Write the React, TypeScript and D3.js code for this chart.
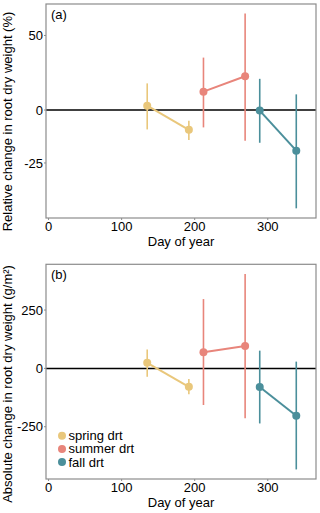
import React from 'react';
import * as d3 from 'd3';

// sampling days (day of year), shared by both panels
const days = [135, 192, 212, 269, 289, 339];
const seasons = ['spring', 'spring', 'summer', 'summer', 'fall', 'fall'];

// (a) relative change (%), mean and error bar limits
const relMean = [2.4, -10.2, 10.5, 20.2, -0.3, -19.8];
const relLow = [-10, -15, -9, -15.4, -16.3, -41.4];
const relHigh = [15.6, -5.6, 33, 69, 18.5, 8.9];

// (b) absolute change (g/m2)
const absMean = [24, -79, 69, 96, -80, -203];
const absLow = [-36, -111, -157, -214, -236, -433];
const absHigh = [81, -46, 297, 404, 76, 29];

const seasonNames = ['spring', 'summer', 'fall'];
const seasonLabels = ['spring drt', 'summer drt', 'fall drt'];
const seasonColors = ['#e9c77b', '#e8857b', '#4b8f9b'];

const relTicks = [50, 0, -25];
const absTicks = [250, 0, -250];
const dayTicks = [0, 100, 200, 300];

const FONT = '"Liberation Sans", Arial, sans-serif';

class App extends React.Component {
	node: SVGSVGElement | null = null;

	componentDidMount() {
		this.draw();
	}
	componentDidUpdate() {
		this.draw();
	}

	draw() {
		const svg = d3.select(this.node);
		svg.selectAll('*').remove();

		const left = 46;
		const right = 316;
		const x = d3.scaleLinear().domain([-3.5, 366]).range([left, right]);
		const color = d3.scaleOrdinal<string, string>().domain(seasonNames).range(seasonColors);

		const panel = (
			top: number,
			bottom: number,
			y: (v: number) => number,
			mean: number[],
			low: number[],
			high: number[],
			ticks: number[],
			tag: string,
			title: string,
			titleMid: number
		) => {
			const g = svg.append('g');
			const pts = days.map((d, i) => ({ day: d, season: seasons[i], m: mean[i], lo: low[i], hi: high[i] }));

			// zero line
			g.append('line')
				.attr('x1', left)
				.attr('x2', right)
				.attr('y1', y(0))
				.attr('y2', y(0))
				.attr('stroke', '#000')
				.attr('stroke-width', 1.5);

			// error bars
			g.selectAll('.err')
				.data(pts)
				.enter()
				.append('line')
				.attr('x1', d => x(d.day))
				.attr('x2', d => x(d.day))
				.attr('y1', d => y(d.lo))
				.attr('y2', d => y(d.hi))
				.attr('stroke', d => color(d.season))
				.attr('stroke-width', 1.6);

			// connecting lines per season
			const line = d3
				.line<any>()
				.x(d => x(d.day))
				.y(d => y(d.m));
			seasonNames.forEach(s => {
				g.append('path')
					.attr('d', line(pts.filter(p => p.season === s)))
					.attr('fill', 'none')
					.attr('stroke', color(s))
					.attr('stroke-width', 2);
			});

			g.selectAll('.pt')
				.data(pts)
				.enter()
				.append('circle')
				.attr('cx', d => x(d.day))
				.attr('cy', d => y(d.m))
				.attr('r', 4)
				.attr('fill', d => color(d.season));

			// frame
			g.append('rect')
				.attr('x', left)
				.attr('y', top)
				.attr('width', right - left)
				.attr('height', bottom - top)
				.attr('fill', 'none')
				.attr('stroke', '#8c8c8c')
				.attr('stroke-width', 1.2);

			// y ticks
			ticks.forEach(t => {
				g.append('line')
					.attr('x1', left - 2)
					.attr('x2', left)
					.attr('y1', y(t))
					.attr('y2', y(t))
					.attr('stroke', '#8c8c8c');
				g.append('text')
					.attr('x', left - 3)
					.attr('y', y(t))
					.attr('dy', '0.35em')
					.attr('text-anchor', 'end')
					.style('font', `13px ${FONT}`)
					.text(t);
			});

			// x ticks
			dayTicks.forEach(t => {
				g.append('line')
					.attr('x1', x(t))
					.attr('x2', x(t))
					.attr('y1', bottom)
					.attr('y2', bottom + 2)
					.attr('stroke', '#8c8c8c');
				g.append('text')
					.attr('x', x(t))
					.attr('y', bottom + 13)
					.attr('text-anchor', 'middle')
					.style('font', `13px ${FONT}`)
					.text(t);
			});

			g.append('text')
				.attr('x', (left + right) / 2)
				.attr('y', bottom + 28)
				.attr('text-anchor', 'middle')
				.style('font', `13px ${FONT}`)
				.text('Day of year');

			g.append('text')
				.attr('transform', `translate(12,${titleMid}) rotate(-90)`)
				.attr('text-anchor', 'middle')
				.style('font', `13px ${FONT}`)
				.text(title);

			g.append('text')
				.attr('x', 51)
				.attr('y', top + 15)
				.style('font', `13px ${FONT}`)
				.text(tag);
		};

		// (a) log-ratio axis labelled in percent
		const ya = d3.scaleLog().domain([0.556, 1.78]).range([218, 4]);
		panel(4, 218, v => ya(1 + v / 100), relMean, relLow, relHigh, relTicks, '(a)', 'Relative change in root dry weight (%)', 121.5);

		const yb = d3.scaleLinear().domain([-474, 446]).range([479, 264.3]);
		panel(264.3, 479, v => yb(v), absMean, absLow, absHigh, absTicks, '(b)', 'Absolute change in root dry weight (g/m\u00b2)', 384);

		// legend
		const lg = svg.append('g');
		seasonNames.forEach((s, i) => {
			const ly = 435.7 + i * 13.2;
			lg.append('circle').attr('cx', 62).attr('cy', ly).attr('r', 4).attr('fill', color(s));
			lg.append('text')
				.attr('x', 68.5)
				.attr('y', ly)
				.attr('dy', '0.35em')
				.style('font', `13px ${FONT}`)
				.text(seasonLabels[i]);
		});
	}

	render() {
		return (
			<svg
				ref={node => {
					this.node = node;
				}}
				width={320}
				height={513}
				style={{ position: 'absolute', left: 0, top: 0, background: '#fff' }}
			/>
		);
	}
}

export default App;
